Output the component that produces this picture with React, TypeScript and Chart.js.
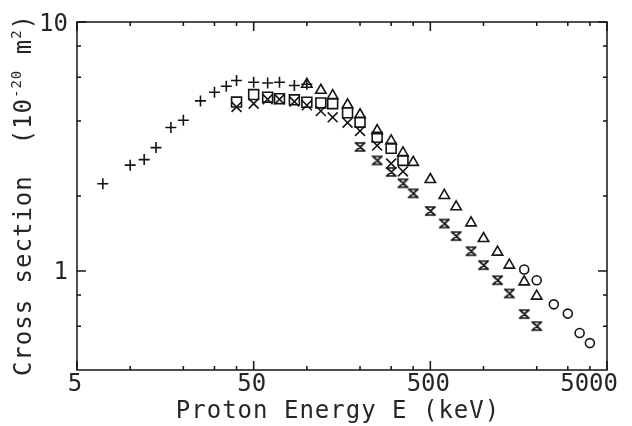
import { useEffect, useRef } from 'react';
import { Chart, registerables } from 'chart.js';

Chart.register(...registerables);

// ---- data (Proton Energy E in keV, Cross section in 10^-20 m^2) ----
const plusX = [7, 10, 12, 14, 17, 20, 25, 30, 35, 40, 50, 60, 70, 85, 100];
const plusY = [2.24, 2.66, 2.8, 3.13, 3.77, 4.03, 4.82, 5.22, 5.52, 5.82, 5.73, 5.69, 5.73, 5.56, 5.62];

const squareX = [40, 50, 60, 70, 85, 100, 120, 140, 170, 200, 250, 300, 350];
const squareY = [4.77, 5.11, 4.99, 4.92, 4.87, 4.76, 4.73, 4.7, 4.32, 3.96, 3.44, 3.11, 2.78];

const crossX = [40, 50, 60, 70, 85, 100, 120, 140, 170, 200, 250, 300, 350];
const crossY = [4.56, 4.7, 4.89, 4.89, 4.79, 4.63, 4.39, 4.14, 3.94, 3.65, 3.19, 2.7, 2.51];

const triangleX = [100, 120, 140, 170, 200, 250, 300, 350, 400, 500, 600, 700, 850, 1000, 1200, 1400, 1700, 2000];
const triangleY = [5.62, 5.32, 5.06, 4.65, 4.24, 3.66, 3.33, 2.98, 2.73, 2.33, 2.01, 1.81, 1.56, 1.35, 1.19, 1.055, 0.904, 0.792];

const hourglassX = [200, 250, 300, 350, 400, 500, 600, 700, 850, 1000, 1200, 1400, 1700, 2000];
const hourglassY = [3.15, 2.78, 2.5, 2.25, 2.05, 1.74, 1.55, 1.38, 1.2, 1.055, 0.918, 0.812, 0.671, 0.6];

const circleX = [1700, 2000, 2500, 3000, 3500, 4000];
const circleY = [1.014, 0.918, 0.734, 0.674, 0.563, 0.513];

// ---- axes ----
const xRange = [5, 5000];
const yRange = [0.4, 10];
const xMajorTicks = [5, 50, 500, 5000];
const xMinorTicks = [10, 20, 30, 40, 100, 200, 300, 400, 1000, 2000, 3000, 4000];
const yMajorTicks = [1, 10];
const yMinorTicks = [0.6, 0.8, 2, 4, 6, 8];
const xTickLabels = ['5', '50', '500', '5000'];
const yTickLabels = ['1', '10'];
const xTitle = 'Proton Energy E (keV)';
const yTitleParts = ['Cross section  (10', '-20', ' m', '2', ')'];

const INK = '#141414';
const TEXT = '#262626';
const FONT = '"DejaVu Sans Mono", monospace';

const pts = (xs: number[], ys: number[]) => xs.map((x, i) => ({ x, y: ys[i] }));

function makeHourglass(): HTMLCanvasElement {
  const c = document.createElement('canvas');
  c.width = 13;
  c.height = 12;
  const g = c.getContext('2d')!;
  g.strokeStyle = INK;
  g.lineWidth = 1.7;
  g.lineCap = 'square';
  g.beginPath();
  g.moveTo(2, 2); g.lineTo(11, 2);
  g.moveTo(2, 10); g.lineTo(11, 10);
  g.moveTo(2, 2); g.lineTo(11, 10);
  g.moveTo(11, 2); g.lineTo(2, 10);
  g.stroke();
  return c;
}

const framePlugin = {
  id: 'framePlugin',
  afterDatasetsDraw(chart: any) {
    const { ctx, chartArea: a, scales } = chart;
    const xs = scales.x;
    const ys = scales.y;
    ctx.save();
    ctx.strokeStyle = INK;
    ctx.lineWidth = 1.5;
    ctx.strokeRect(a.left, a.top, a.right - a.left, a.bottom - a.top);
    ctx.beginPath();
    const xt = (v: number, len: number) => {
      const p = xs.getPixelForValue(v);
      ctx.moveTo(p, a.bottom); ctx.lineTo(p, a.bottom - len);
      ctx.moveTo(p, a.top); ctx.lineTo(p, a.top + len);
    };
    const yt = (v: number, len: number) => {
      const p = ys.getPixelForValue(v);
      ctx.moveTo(a.left, p); ctx.lineTo(a.left + len, p);
      ctx.moveTo(a.right, p); ctx.lineTo(a.right - len, p);
    };
    xMajorTicks.forEach((v) => xt(v, 9));
    xMinorTicks.forEach((v) => xt(v, 4));
    yMajorTicks.forEach((v) => yt(v, 9));
    yMinorTicks.forEach((v) => yt(v, 4));
    ctx.stroke();

    // tick labels
    ctx.fillStyle = TEXT;
    ctx.font = `24px ${FONT}`;
    ctx.textBaseline = 'alphabetic';
    ctx.textAlign = 'center';
    xMajorTicks.forEach((v, i) => {
      const label = xTickLabels[i];
      const w = ctx.measureText(label).width;
      let p = xs.getPixelForValue(v) - 2;
      if (p + w / 2 > chart.width - 14) p = chart.width - 14 - w / 2;
      ctx.fillText(label, p, a.bottom + 21);
    });
    ctx.textAlign = 'right';
    yMajorTicks.forEach((v, i) => {
      const p = ys.getPixelForValue(v);
      ctx.fillText(yTickLabels[i], a.left - 9, p + 8.5);
    });

    // x title
    ctx.textAlign = 'center';
    (ctx as any).letterSpacing = '1px';
    ctx.fillText(xTitle, (a.left + a.right) / 2 - 4, a.bottom + 48);

    // y title (rotated, with superscripts)
    ctx.textAlign = 'left';
    const sizes = [24, 14, 24, 14, 24];
    const raise = [0, -10, 0, -10, 0];
    let total = 0;
    const widths = yTitleParts.map((t, i) => {
      ctx.font = `${sizes[i]}px ${FONT}`;
      const w = ctx.measureText(t).width;
      total += w;
      return w;
    });
    ctx.translate(31, 195);
    ctx.rotate(-Math.PI / 2);
    let u = -total / 2;
    yTitleParts.forEach((t, i) => {
      ctx.font = `${sizes[i]}px ${FONT}`;
      ctx.fillText(t, u, raise[i]);
      u += widths[i];
    });
    ctx.restore();
  },
};

export default function App() {
  const ref = useRef<HTMLCanvasElement | null>(null);

  useEffect(() => {
    if (!ref.current) return;
    const hourglass = makeHourglass();
    const base = {
      showLine: false,
      borderColor: INK,
      backgroundColor: 'rgba(0,0,0,0)',
      pointBackgroundColor: 'rgba(0,0,0,0)',
      pointBorderColor: INK,
      pointBorderWidth: 1.6,
    };
    const chart = new Chart(ref.current, {
      type: 'scatter',
      data: {
        datasets: [
          { ...base, label: 'plus', data: pts(plusX, plusY), pointStyle: 'cross', pointRadius: 5.5 },
          { ...base, label: 'square', data: pts(squareX, squareY), pointStyle: 'rect', pointRadius: 7 },
          { ...base, label: 'cross', data: pts(crossX, crossY), pointStyle: 'crossRot', pointRadius: 7 },
          { ...base, label: 'triangle', data: pts(triangleX, triangleY), pointStyle: 'triangle', pointRadius: 6 },
          { ...base, label: 'hourglass', data: pts(hourglassX, hourglassY), pointStyle: hourglass as any, pointRadius: 6 },
          { ...base, label: 'circle', data: pts(circleX, circleY), pointStyle: 'circle', pointRadius: 4.5 },
        ],
      },
      options: {
        responsive: false,
        animation: false,
        layout: { padding: { left: 77, top: 22, right: 25, bottom: 56 } },
        scales: {
          x: { type: 'logarithmic', min: xRange[0], max: xRange[1], display: false },
          y: { type: 'logarithmic', min: yRange[0], max: yRange[1], display: false },
        },
        plugins: { legend: { display: false }, tooltip: { enabled: false } },
      },
      plugins: [framePlugin],
    } as any);
    return () => chart.destroy();
  }, []);

  return (
    <div style={{ position: 'absolute', left: 0, top: 0, width: 632, height: 426, background: '#fff' }}>
      <canvas ref={ref} width={632} height={426} style={{ display: 'block' }} />
    </div>
  );
}
